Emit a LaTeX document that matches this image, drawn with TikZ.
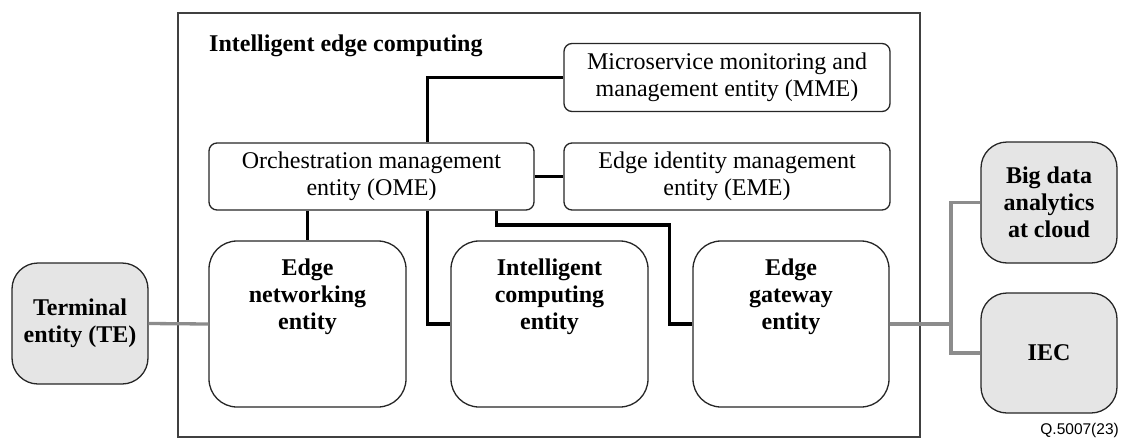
\documentclass[tikz,border=0pt]{standalone}
\usepackage{fontspec}
\setmainfont{Liberation Serif}
\newfontfamily\qfont{Liberation Sans}
\usetikzlibrary{calc}
\tikzset{
  txt/.style={font=\fontsize{24}{27.5}\selectfont, align=center},
  btxt/.style={font=\fontsize{24}{27}\selectfont\bfseries, align=center},
  smallbox/.style={draw=black!85, line width=1.3pt, rounded corners=8pt, fill=white,
    minimum width=326pt, minimum height=67pt, inner sep=0pt, txt},
  bigbox/.style={draw=black!85, line width=1.3pt, rounded corners=28pt, fill=white,
    minimum width=197pt, minimum height=166pt, inner sep=0pt},
  graybox/.style={draw=black!85, line width=1.3pt, rounded corners=26pt, fill=black!10,
    minimum width=136pt, minimum height=121pt, inner sep=0pt, btxt},
  frame/.style={draw=black!75, line width=1.2pt, minimum width=742pt, minimum height=424pt, inner sep=0pt},
  conn/.style={line width=3.3pt, black},
  gconn/.style={line width=3.3pt, black!45},
  inlabel/.style={anchor=north, yshift=-18pt, inner sep=0pt, btxt}
}
\begin{document}
\begin{tikzpicture}[x=1pt,y=-1pt]
\useasboundingbox (0,0) rectangle (1121,439);
\node[frame] (frm) at (549,225) {};
\node[btxt, anchor=west, inner sep=0pt] (title) at (209,46) {Intelligent edge computing};

\coordinate (j) at (951,202.5);

\node[smallbox, minimum height=68pt] (mme) at (727,77.5) {Microservice monitoring and\\management entity (MME)};
\node[smallbox, minimum width=325pt] (ome) at (371.5,176.5) {Orchestration management\\entity (OME)};
\node[smallbox] (eme) at (727,176.5) {Edge identity management\\entity (EME)};

\node[bigbox, label={[inlabel]north:Edge\\networking\\entity}] (en) at (307.5,324) {};
\node[bigbox, label={[inlabel]north:Intelligent\\computing\\entity}] (ic) at (549.5,324) {};
\node[bigbox, minimum width=196pt, label={[inlabel]north:Edge\\gateway\\entity}] (gw) at (791,324) {};

\node[graybox] (te) at (80,323.5) {Terminal\\entity (TE)};
\node[graybox] (bd) at (1049,202.5) {Big data\\analytics\\at cloud};
\node[graybox, minimum height=120pt] (iec) at (1049,353) {IEC};

\node[anchor=east, inner sep=0pt, font=\qfont\fontsize{15.5}{18}\selectfont] (q) at (1119,430) {Q.5007(23)};

% black connectors
\draw[conn] ([xshift=219pt]ome.north west) |- (mme.west);
\draw[conn] (ome.east) -- (eme.west);
\draw[conn] (en.north |- ome.south) -- (en.north);
\draw[conn] ([xshift=219pt]ome.south west) |- (ic.west);
\draw[conn] ([xshift=288pt]ome.south west) |- ($(gw.west)+(-23,-99)$) |- (gw.west);

% gray connectors
\draw[gconn] (te.east) -- (en.west);
\draw[gconn] (bd.west) -- (j) |- (iec.west);
\draw[gconn] (gw.east) -- (gw.east -| j);
\end{tikzpicture}
\end{document}
